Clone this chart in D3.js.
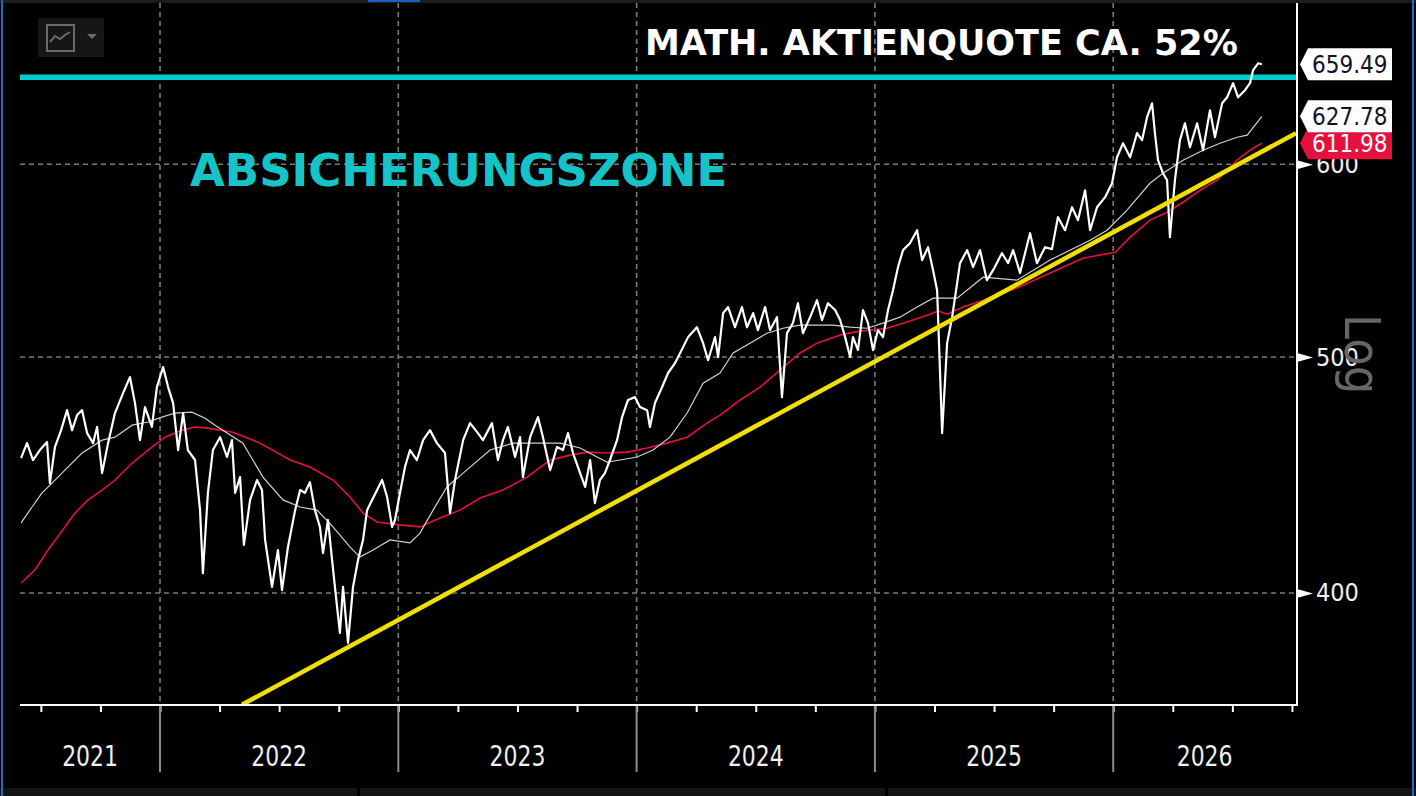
<!doctype html>
<html lang="de">
  <head>
    <meta charset="utf-8">
    <title>Aktienquote – Absicherungszone</title>
    <script src="https://d3js.org/d3.v7.min.js"></script>
    <style>
      html, body { margin: 0; padding: 0; background: #000; }
      svg { display: block; }
    </style>
  </head>
  <body>
    <div id="root"></div>
  <script>
    // data (time as decimal years)
    const price = [
      [2021.417,454.4],[2021.442,460.9],[2021.467,453.6],[2021.496,457.9],[2021.526,461.4],[2021.538,443.8],
      [2021.559,459.2],[2021.585,466.6],[2021.610,475.5],[2021.631,466.6],[2021.652,473.3],[2021.673,475.5],
      [2021.694,465.3],[2021.719,460.9],[2021.736,468.0],[2021.757,448.0],[2021.782,460.9],[2021.811,474.2],
      [2021.845,483.2],[2021.874,490.6],[2021.895,478.7],[2021.916,462.2],[2021.937,476.9],[2021.966,468.0],
      [2021.987,486.0],[2022.013,495.3],[2022.034,486.0],[2022.055,478.7],[2022.076,457.9],[2022.097,474.2],
      [2022.117,457.9],[2022.147,453.6],[2022.168,432.6],[2022.180,407.6],[2022.201,439.7],[2022.222,457.9],
      [2022.252,463.5],[2022.281,454.9],[2022.302,462.2],[2022.315,439.7],[2022.336,446.3],[2022.352,418.6],
      [2022.378,436.8],[2022.407,445.1],[2022.428,440.9],[2022.441,420.6],[2022.470,402.3],[2022.495,416.6],
      [2022.512,401.1],[2022.537,417.8],[2022.567,432.6],[2022.588,440.9],[2022.608,439.7],[2022.629,444.2],
      [2022.650,432.6],[2022.671,425.8],[2022.684,415.4],[2022.705,428.6],[2022.722,412.7],[2022.743,394.8],
      [2022.755,385.2],[2022.768,402.3],[2022.789,381.6],[2022.810,402.3],[2022.831,412.7],[2022.852,420.6],
      [2022.869,432.6],[2022.890,436.8],[2022.911,440.9],[2022.932,445.1],[2022.953,438.0],[2022.974,425.8],
      [2022.986,428.6],[2023.007,439.7],[2023.028,450.6],[2023.049,457.9],[2023.078,453.6],[2023.104,462.2],
      [2023.133,466.6],[2023.162,460.9],[2023.196,456.6],[2023.217,431.4],[2023.238,445.1],[2023.272,462.2],
      [2023.301,469.7],[2023.334,465.3],[2023.355,462.2],[2023.393,469.7],[2023.418,453.6],[2023.439,462.2],
      [2023.460,468.0],[2023.490,454.9],[2023.511,463.5],[2023.523,446.3],[2023.553,463.5],[2023.586,472.4],
      [2023.607,463.5],[2023.637,449.3],[2023.666,459.2],[2023.691,457.9],[2023.712,465.3],[2023.733,456.6],
      [2023.763,448.0],[2023.784,442.2],[2023.805,453.6],[2023.825,435.5],[2023.846,445.1],[2023.867,448.0],
      [2023.888,453.6],[2023.918,462.2],[2023.939,472.4],[2023.964,480.1],[2023.993,481.4],[2024.014,476.9],
      [2024.044,475.5],[2024.056,468.0],[2024.077,478.7],[2024.107,486.0],[2024.132,492.5],[2024.161,497.1],
      [2024.195,504.7],[2024.216,509.5],[2024.253,514.3],[2024.279,506.6],[2024.300,498.5],[2024.329,509.5],
      [2024.342,500.0],[2024.363,521.2],[2024.384,524.2],[2024.413,514.3],[2024.442,524.2],[2024.463,514.3],
      [2024.489,521.2],[2024.509,512.9],[2024.539,524.2],[2024.560,512.9],[2024.589,519.2],[2024.610,481.4],
      [2024.631,511.4],[2024.656,516.3],[2024.677,526.1],[2024.698,511.4],[2024.728,519.2],[2024.757,527.6],
      [2024.778,517.8],[2024.803,526.1],[2024.833,522.7],[2024.854,517.8],[2024.875,509.5],[2024.896,500.0],
      [2024.908,509.5],[2024.929,503.3],[2024.950,522.7],[2024.971,516.3],[2024.992,503.3],[2025.013,512.9],
      [2025.034,509.5],[2025.055,522.7],[2025.076,532.6],[2025.097,544.4],[2025.118,553.2],[2025.147,556.8],
      [2025.177,563.7],[2025.198,548.0],[2025.223,554.7],[2025.244,542.8],[2025.261,532.6],[2025.273,493.8],
      [2025.282,465.3],[2025.303,506.6],[2025.324,519.2],[2025.345,536.2],[2025.357,546.4],[2025.387,553.2],
      [2025.412,544.4],[2025.441,553.2],[2025.470,537.7],[2025.496,542.8],[2025.533,551.6],[2025.559,546.4],
      [2025.580,553.2],[2025.609,541.3],[2025.651,562.1],[2025.680,546.4],[2025.714,554.7],[2025.743,553.7],
      [2025.768,570.7],[2025.798,563.7],[2025.827,576.1],[2025.852,569.1],[2025.882,585.4],[2025.903,563.7],
      [2025.932,576.1],[2025.966,581.6],[2025.995,589.3],[2026.016,604.0],[2026.041,612.0],[2026.071,604.0],
      [2026.100,617.9],[2026.121,613.8],[2026.142,627.3],[2026.163,635.6],[2026.175,617.9],[2026.188,602.3],
      [2026.209,594.9],[2026.226,591.0],[2026.238,560.0],[2026.259,591.0],[2026.280,613.8],[2026.301,623.7],
      [2026.322,609.7],[2026.352,623.7],[2026.377,608.0],[2026.406,631.4],[2026.427,615.5],[2026.457,635.6],
      [2026.478,639.2],[2026.503,647.8],[2026.524,639.2],[2026.553,643.5],[2026.574,647.8],[2026.587,655.8],
      [2026.608,660.1],[2026.624,659.49]
    ];

    // short moving average (thin white)
    const maShort = [
      [2021.417,427.4],[2021.463,433.9],[2021.505,439.7],[2021.547,443.8],[2021.601,449.3],[2021.673,456.6],
      [2021.757,462.2],[2021.811,463.5],[2021.883,468.8],[2021.950,470.2],[2022.008,472.4],[2022.063,474.2],
      [2022.134,474.6],[2022.189,471.9],[2022.231,468.8],[2022.348,460.9],[2022.432,446.3],[2022.516,436.8],
      [2022.588,433.9],[2022.659,432.6],[2022.726,425.8],[2022.797,417.8],[2022.839,413.8],[2022.894,416.6],
      [2022.965,420.6],[2023.049,419.4],[2023.091,423.3],[2023.146,432.6],[2023.204,442.2],[2023.272,448.0],
      [2023.385,457.9],[2023.481,460.9],[2023.582,460.9],[2023.679,460.9],[2023.763,458.8],[2023.834,454.9],
      [2023.876,452.7],[2023.930,453.6],[2024.002,454.9],[2024.069,457.9],[2024.140,463.5],[2024.212,474.2],
      [2024.279,487.8],[2024.350,492.5],[2024.405,501.9],[2024.476,506.6],[2024.547,511.4],[2024.614,513.8],
      [2024.686,515.3],[2024.757,515.3],[2024.824,515.3],[2024.896,514.3],[2024.967,513.8],[2025.034,516.3],
      [2025.105,519.2],[2025.177,524.2],[2025.244,528.6],[2025.345,528.6],[2025.454,539.2],[2025.596,537.7],
      [2025.735,548.0],[2025.903,558.4],[2025.974,563.7],[2026.058,574.5],[2026.154,589.3],[2026.209,594.9],
      [2026.293,602.3],[2026.377,608.0],[2026.448,612.0],[2026.520,615.5],[2026.562,616.7],[2026.624,627.78]
    ];

    // long moving average (red)
    const maLong = [
      [2021.417,403.8],[2021.475,408.8],[2021.530,416.6],[2021.601,425.8],[2021.643,431.4],[2021.698,436.8],
      [2021.757,440.9],[2021.811,445.1],[2021.883,452.3],[2021.950,457.9],[2022.021,463.5],[2022.092,466.6],
      [2022.147,468.0],[2022.201,467.5],[2022.306,465.7],[2022.420,460.9],[2022.546,453.6],[2022.629,450.6],
      [2022.726,445.1],[2022.797,438.0],[2022.852,431.4],[2022.911,427.8],[2023.007,426.6],[2023.091,425.8],
      [2023.175,429.4],[2023.259,432.6],[2023.343,437.6],[2023.439,440.9],[2023.540,446.3],[2023.637,453.6],
      [2023.721,455.7],[2023.792,457.0],[2023.876,456.6],[2023.960,457.0],[2024.044,458.8],[2024.128,460.9],
      [2024.212,463.5],[2024.295,469.7],[2024.350,473.3],[2024.434,480.1],[2024.518,486.0],[2024.602,493.9],
      [2024.686,501.9],[2024.757,506.6],[2024.854,510.5],[2024.937,512.4],[2025.051,513.8],[2025.135,516.8],
      [2025.219,520.2],[2025.265,522.2],[2025.303,520.7],[2025.370,524.2],[2025.454,527.6],[2025.596,533.7],
      [2025.735,541.3],[2025.873,549.0],[2026.008,552.1],[2026.071,560.0],[2026.154,569.1],[2026.226,573.4],
      [2026.293,578.8],[2026.364,585.4],[2026.436,591.0],[2026.520,602.3],[2026.574,608.0],[2026.624,611.98]
    ];

    // annotations
    const trendLine = [[2022.344, 359.9], [2026.767, 617.9]];
    const hedgeLevel = 651.4;
    const yTicks = [400, 500, 600];
    const years = [2021, 2022, 2023, 2024, 2025, 2026];
    const lastLabels = [
      { value: 611.98, text: '611.98', fill: '#e5103c', color: '#ffffff' },
      { value: 627.78, text: '627.78', fill: '#ffffff', color: '#10102a' },
      { value: 659.49, text: '659.49', fill: '#ffffff', color: '#10102a' }
    ];
    const titleText = 'MATH. AKTIENQUOTE CA. 52%';
    const zoneText = 'ABSICHERUNGSZONE';

    // constants
    const width = 1416;
    const height = 796;
    const left = 20;
    const right = 1296;
    const bottom = 705;
    const numFont = '"DejaVu Sans Condensed", "Liberation Sans Narrow", sans-serif';
    const boldFont = '"DejaVu Sans", Verdana, sans-serif';

    // scales
    const x = d3.scaleLinear()
      .domain([2021.4125, 2026.767])
      .range([left, right]);

    const y = d3.scaleLog()
      .domain([359.8, 700.8])
      .range([bottom, 0]);

    // svg
    const svg = d3.select('#root')
      .append('svg')
      .attr('width', width)
      .attr('height', height)
      .style('background', '#000');

    svg.append('defs').append('clipPath').attr('id', 'plot')
      .append('rect')
      .attr('x', left).attr('y', 0)
      .attr('width', right - left).attr('height', bottom);

    // frame bits
    svg.append('rect').attr('x', 0).attr('y', 0).attr('width', width).attr('height', 3).attr('fill', '#1c1c1c');
    svg.append('rect').attr('x', 368).attr('y', 0).attr('width', 52).attr('height', 2).attr('fill', '#1f5fc0');
    svg.append('rect').attr('x', 0).attr('y', 788).attr('width', width).attr('height', 8).attr('fill', '#141414');
    [357, 885].forEach(gx => {
      svg.append('rect').attr('x', gx).attr('y', 788).attr('width', 3).attr('height', 8).attr('fill', '#000');
    });
    [2, 1413].forEach(bx => {
      svg.append('line')
        .attr('x1', bx).attr('x2', bx).attr('y1', 0).attr('y2', height)
        .attr('stroke', '#1e6ac8').attr('stroke-width', 2);
    });

    // grid
    const grid = svg.append('g')
      .attr('stroke', '#7a7a7a')
      .attr('stroke-width', 1.6)
      .attr('stroke-dasharray', '5,4');

    grid.selectAll('.vgrid')
      .data(years.slice(1))
      .enter()
      .append('line')
      .attr('x1', d => x(d)).attr('x2', d => x(d))
      .attr('y1', 3).attr('y2', bottom);

    grid.selectAll('.hgrid')
      .data(yTicks)
      .enter()
      .append('line')
      .attr('x1', left).attr('x2', right)
      .attr('y1', d => y(d)).attr('y2', d => y(d));

    // widget top left
    const widget = svg.append('g');
    widget.append('rect')
      .attr('x', 38).attr('y', 18).attr('width', 66).attr('height', 39)
      .attr('fill', '#161616');
    widget.append('rect')
      .attr('x', 47).attr('y', 25).attr('width', 27).attr('height', 26)
      .attr('fill', 'none').attr('stroke', '#6b6b6b').attr('stroke-width', 2);
    widget.append('polyline')
      .attr('points', '50,42 55,36 60,39 65,35 70,32')
      .attr('fill', 'none').attr('stroke', '#6b6b6b').attr('stroke-width', 2);
    widget.append('path')
      .attr('d', 'M87,34 L97,34 L92,39 Z')
      .attr('fill', '#6b6b6b');

    // lines
    const line = d3.line()
      .x(d => x(d[0]))
      .y(d => y(d[1]));

    const plot = svg.append('g').attr('clip-path', 'url(#plot)');

    plot.append('line')
      .attr('x1', left).attr('x2', right)
      .attr('y1', y(hedgeLevel)).attr('y2', y(hedgeLevel))
      .attr('stroke', '#00cccc')
      .attr('stroke-width', 5.5);

    plot.append('path')
      .datum(maLong)
      .attr('d', line)
      .attr('fill', 'none')
      .attr('stroke', '#e5103c')
      .attr('stroke-width', 1.6);

    plot.append('path')
      .datum(maShort)
      .attr('d', line)
      .attr('fill', 'none')
      .attr('stroke', '#d0d0d0')
      .attr('stroke-width', 1.2);

    plot.append('path')
      .datum(price)
      .attr('d', line)
      .attr('fill', 'none')
      .attr('stroke', '#ffffff')
      .attr('stroke-width', 2.2)
      .attr('stroke-linejoin', 'round');

    plot.append('path')
      .datum(trendLine)
      .attr('d', line)
      .attr('fill', 'none')
      .attr('stroke', '#f2df00')
      .attr('stroke-width', 4.5);

    // texts
    svg.append('text')
      .attr('x', 645).attr('y', 55)
      .attr('font-family', boldFont)
      .attr('font-weight', 'bold')
      .attr('font-size', 35)
      .attr('fill', '#ffffff')
      .text(titleText);

    svg.append('text')
      .attr('x', 190).attr('y', 186)
      .attr('font-family', boldFont)
      .attr('font-weight', 'bold')
      .attr('font-size', 45)
      .attr('fill', '#16c4c8')
      .text(zoneText);

    // bottom axis
    const quarters = d3.range(2021.5, 2026.76, 0.25);
    const xAxis = d3.axisBottom(x)
      .tickValues(quarters)
      .tickSize(7)
      .tickFormat('');

    const gx = svg.append('g')
      .attr('transform', `translate(0, ${bottom})`)
      .call(xAxis);
    gx.select('.domain').remove();
    gx.selectAll('.tick line').attr('stroke', '#fff').attr('stroke-width', 2);

    svg.selectAll('.yearsep')
      .data(years.slice(1))
      .enter()
      .append('line')
      .attr('x1', d => x(d)).attr('x2', d => x(d))
      .attr('y1', bottom + 1).attr('y2', 772)
      .attr('stroke', '#8a8a8a').attr('stroke-width', 2);

    svg.append('line')
      .attr('x1', left).attr('x2', right + 1)
      .attr('y1', bottom).attr('y2', bottom)
      .attr('stroke', '#fff').attr('stroke-width', 2);

    svg.selectAll('.yearlabel')
      .data(years)
      .enter()
      .append('text')
      .attr('transform', d =>
        `translate(${(Math.max(x(d), left) + Math.min(x(d + 1), right)) / 2}, 766) scale(0.87, 1)`)
      .attr('text-anchor', 'middle')
      .attr('font-family', numFont)
      .attr('font-size', 28)
      .attr('fill', '#f0f0f0')
      .text(d => d);

    // right axis
    svg.append('line')
      .attr('x1', right + 1).attr('x2', right + 1)
      .attr('y1', 3).attr('y2', bottom + 1)
      .attr('stroke', '#fff').attr('stroke-width', 2);

    const yAxis = d3.axisRight(y)
      .tickValues(yTicks)
      .tickSize(0)
      .tickPadding(19)
      .tickFormat(d3.format('d'));

    const gy = svg.append('g')
      .attr('transform', `translate(${right + 1}, 0)`)
      .call(yAxis);
    gy.select('.domain').remove();
    gy.selectAll('.tick').append('path')
      .attr('d', 'M0,-4.5L16,0L0,4.5Z')
      .attr('fill', '#fff');
    gy.selectAll('.tick text')
      .attr('font-family', numFont)
      .attr('font-size', 25)
      .attr('fill', '#f0f0f0');

    svg.append('text')
      .attr('transform', 'translate(1345, 314) rotate(90)')
      .attr('font-family', numFont)
      .attr('font-size', 50)
      .attr('fill', '#666')
      .text('Log');

    // last value labels
    const tags = svg.selectAll('.tag')
      .data(lastLabels)
      .enter()
      .append('g')
      .attr('transform', d => `translate(${right + 4}, ${y(d.value)})`);

    tags.append('path')
      .attr('d', 'M0,0 L8,-16 L92,-16 L92,16 L8,16 Z')
      .attr('fill', d => d.fill);

    tags.append('text')
      .attr('x', 12)
      .attr('dy', '0.36em')
      .attr('font-family', numFont)
      .attr('font-size', 24)
      .attr('fill', d => d.color)
      .text(d => d.text);

  </script>
  </body>
</html>
